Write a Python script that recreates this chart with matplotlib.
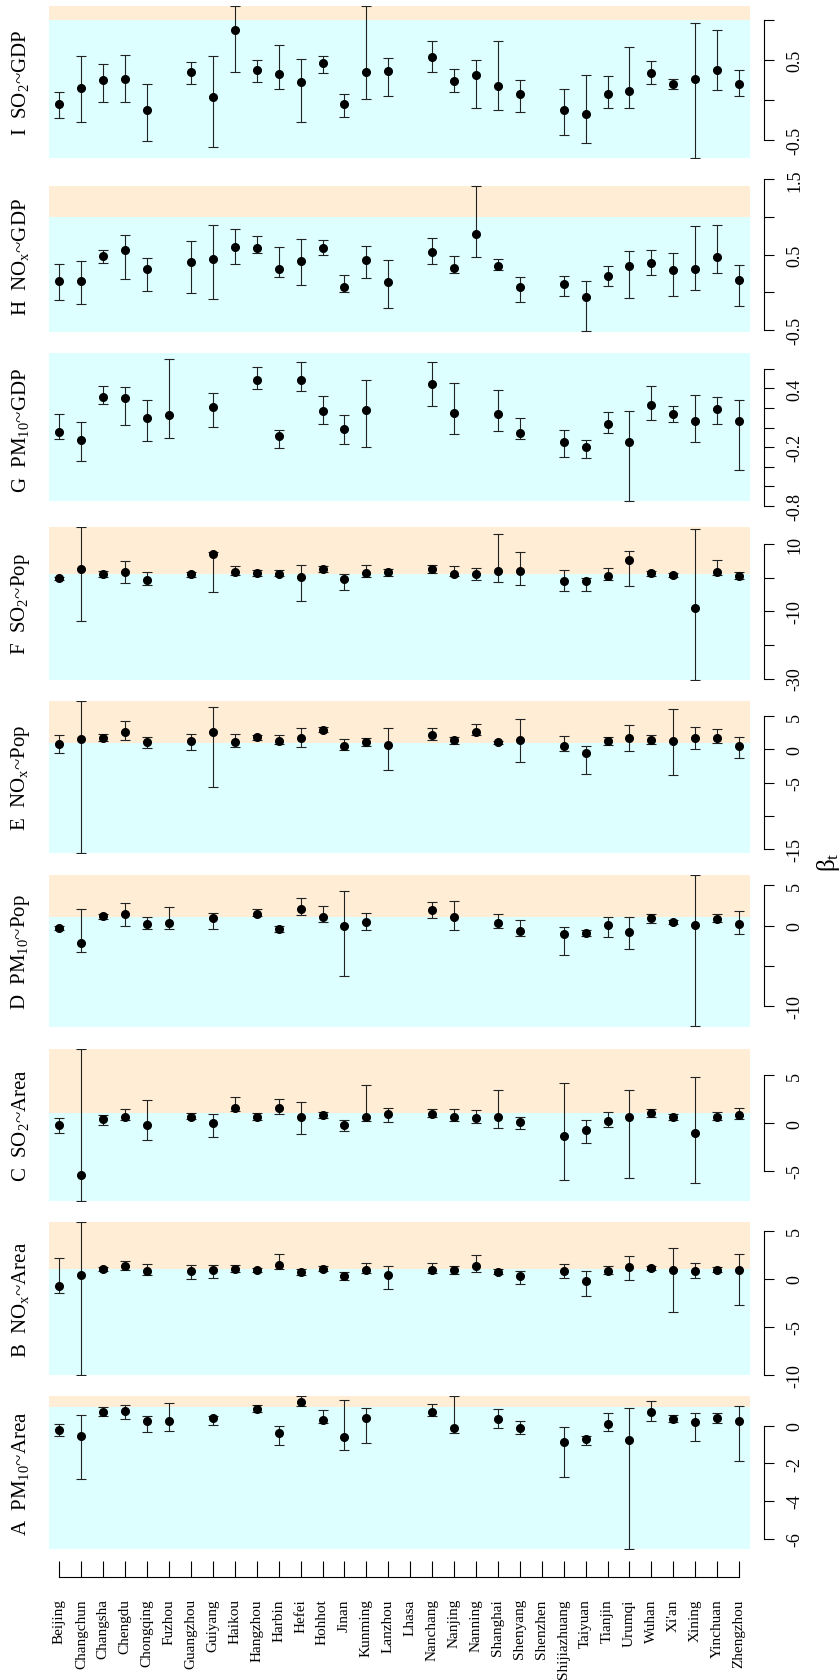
import matplotlib
matplotlib.use("Agg")
import matplotlib.pyplot as plt
import numpy as np

plt.rcParams["font.family"] = ["Liberation Serif", "DejaVu Serif"]
plt.rcParams["mathtext.fontset"] = "custom"
plt.rcParams["mathtext.rm"] = "Liberation Serif"
plt.rcParams["mathtext.it"] = "Liberation Serif:italic"
plt.rcParams["mathtext.default"] = "regular"

nan = np.nan

cities = ["Beijing", "Changchun", "Changsha", "Chengdu", "Chongqing", "Fuzhou",
          "Guangzhou", "Guiyang", "Haikou", "Hangzhou", "Harbin", "Hefei",
          "Hohhot", "Jinan", "Kunming", "Lanzhou", "Lhasa", "Nanchang",
          "Nanjing", "Nanning", "Shanghai", "Shenyang", "Shenzhen",
          "Shijiazhuang", "Taiyuan", "Tianjin", "Urumqi", "Wuhan", "Xi'an",
          "Xining", "Yinchuan", "Zhengzhou"]

# A  PM10 ~ Area
a_val = [-0.21, -0.52, 0.71, 0.78, 0.28, 0.23, nan, 0.39, nan, 0.91, -0.37, 1.25, 0.32, -0.57, 0.39, nan,
         nan, 0.73, -0.09, nan, 0.34, -0.11, nan, -0.84, -0.71, 0.12, -0.73, 0.75, 0.37, 0.18, 0.41, 0.28]
a_lo = [-0.55, -2.83, 0.53, 0.36, -0.34, -0.28, nan, 0.05, nan, 0.73, -1.03, 1.07, 0.14, -1.30, -0.91, nan,
        nan, 0.50, -0.36, nan, -0.09, -0.41, nan, -2.74, -1.01, -0.30, -6.53, 0.25, 0.21, -0.82, 0.14, -1.85]
a_hi = [0.07, 0.60, 1.01, 1.12, 0.53, 1.23, nan, 0.52, nan, 1.12, 0.00, 1.58, 0.82, 1.37, 0.93, nan,
        nan, 1.17, 1.58, nan, 0.87, 0.27, nan, -0.05, -0.53, 0.69, 0.94, 1.32, 0.55, 0.69, 0.69, 1.07]

# B  NOx ~ Area
b_val = [-0.73, 0.35, 1.04, 1.35, 0.83, nan, 0.83, 0.94, 1.04, 0.90, 1.42, 0.66, 1.04, 0.24, 0.90, 0.35,
         nan, 0.90, 0.87, 1.35, 0.73, 0.24, nan, 0.76, -0.24, 0.76, 1.25, 1.15, 0.87, 0.80, 0.94, 0.94]
b_lo = [-1.49, -10.0, 0.80, 0.87, 0.38, nan, -0.03, 0.10, 0.69, 0.66, 0.97, 0.35, 0.76, -0.14, 0.56, -1.08,
        nan, 0.56, 0.49, 0.66, 0.45, -0.52, nan, 0.10, -1.77, 0.45, -0.14, 0.90, -3.47, 0.10, 0.66, -2.78]
b_hi = [2.15, 5.87, 1.25, 1.88, 1.56, nan, 1.39, 1.39, 1.46, 1.15, 2.60, 1.00, 1.32, 0.73, 1.60, 1.28,
        nan, 1.60, 1.35, 2.50, 1.04, 0.76, nan, 1.49, 0.83, 1.28, 2.40, 1.32, 3.16, 1.60, 1.18, 2.57]

# C  SO2 ~ Area
c_val = [-0.24, -5.45, 0.45, 0.66, -0.24, nan, 0.63, 0.03, 1.60, 0.59, 1.53, 0.63, 0.87, -0.24, 0.63, 0.94,
         nan, 0.94, 0.63, 0.56, 0.63, 0.14, nan, -1.32, -0.73, 0.24, 0.66, 1.00, 0.59, -1.04, 0.63, 0.83]
c_lo = [-1.00, -8.13, -0.21, 0.35, -1.77, nan, 0.38, -1.42, 1.28, 0.35, 0.94, -1.18, 0.56, -0.83, 0.21, 0.10,
        nan, 0.63, 0.24, 0.00, -0.56, -0.59, nan, -5.94, -2.05, -0.38, -5.73, 0.66, 0.31, -6.22, 0.31, 0.45]
c_hi = [0.52, 7.78, 0.80, 1.42, 2.40, nan, 1.00, 0.94, 2.67, 1.00, 2.50, 2.15, 1.20, 0.31, 3.96, 1.60,
        nan, 1.49, 1.49, 1.32, 3.40, 0.63, nan, 4.17, 0.31, 1.11, 3.50, 1.42, 0.97, 4.76, 1.20, 1.60]

# D  PM10 ~ Pop
d_val = [-0.29, -2.16, 1.16, 1.41, 0.20, 0.33, nan, 0.91, nan, 1.49, -0.46, 2.00, 1.04, -0.04, 0.41, nan,
         nan, 1.87, 1.04, nan, 0.33, -0.62, nan, -1.08, -0.87, 0.08, -0.75, 0.91, 0.46, 0.04, 0.83, 0.20]
d_lo = [-0.58, -3.28, 0.83, 0.00, -0.41, -0.46, nan, -0.46, nan, 1.12, -0.79, 1.29, 0.46, -6.22, -0.58, nan,
        nan, 0.95, -0.58, nan, -0.29, -1.29, nan, -3.65, -1.24, -1.37, -2.95, 0.37, 0.17, -12.5, 0.41, -1.04]
d_hi = [-0.04, 2.10, 1.45, 2.82, 1.00, 2.24, nan, 1.58, nan, 2.00, -0.08, 3.44, 2.36, 4.27, 1.58, nan,
        nan, 2.95, 3.07, nan, 1.45, 0.71, nan, -0.12, -0.54, 1.08, 1.08, 1.45, 0.66, 6.30, 1.49, 1.78]

# E  NOx ~ Pop
e_val = [0.80, 1.50, 1.76, 2.66, 1.05, nan, 1.20, 2.60, 1.05, 1.80, 1.26, 1.70, 2.96, 0.50, 1.05, 0.65,
         nan, 2.20, 1.36, 2.66, 1.05, 1.36, nan, 0.55, -0.50, 1.26, 1.66, 1.36, 1.30, 1.66, 1.66, 0.50]
e_lo = [-0.55, -15.6, 1.30, 1.40, 0.15, nan, -0.15, -5.60, 0.40, 1.36, 0.75, 0.40, 2.56, -0.15, 0.45, -3.07,
        nan, 1.40, 0.85, 2.16, 0.75, -1.90, nan, -0.20, -3.70, 0.70, -0.30, 0.80, -3.80, 0.10, 0.90, -1.26]
e_hi = [2.10, 7.29, 2.26, 4.27, 1.86, nan, 2.26, 6.40, 2.26, 2.20, 2.10, 3.20, 3.37, 1.50, 1.70, 3.17,
        nan, 3.17, 1.86, 3.82, 1.30, 4.60, nan, 1.96, 0.55, 1.80, 3.67, 2.10, 6.10, 3.30, 3.00, 1.86]

# F  SO2 ~ Pop
f_val = [-0.2, 2.67, 1.0, 1.6, -0.6, nan, 1.0, 7.0, 1.8, 1.3, 1.2, 0.1, 2.6, -0.3, 1.4, 1.6,
         nan, 2.5, 1.2, 1.2, 1.9, 2.1, nan, -0.9, -1.0, 0.6, 5.2, 1.3, 0.7, -8.9, 1.8, 0.5]
f_lo = [-0.7, -13.0, 0.1, -1.5, -2.1, nan, 0.2, -4.2, 0.9, 0.4, 0.4, -7.0, 1.6, -3.6, 0.1, 0.4,
        nan, 1.5, 0.4, -0.5, -1.1, -2.0, nan, -4.0, -3.9, -0.6, -2.5, 0.5, 0.1, -30.3, 0.7, -0.3]
f_hi = [0.3, 15.1, 1.9, 5.0, 1.7, nan, 1.6, 7.8, 3.5, 2.3, 2.3, 3.7, 3.4, 1.1, 3.7, 2.5,
        nan, 3.7, 3.5, 2.9, 13.1, 7.7, nan, 2.3, -0.1, 2.9, 7.9, 2.1, 1.5, 14.5, 5.3, 1.6]

# G  PM10 ~ GDP
g_val = [-0.041, -0.124, 0.317, 0.298, 0.098, 0.127, nan, 0.206, nan, 0.486, -0.089, 0.489, 0.165, -0.016,
         0.181, nan, nan, 0.441, 0.152, nan, 0.137, -0.054, nan, -0.149, -0.203, 0.035, -0.143, 0.235,
         0.143, 0.067, 0.19, 0.067]
g_lo = [-0.114, -0.346, 0.238, 0.022, -0.137, -0.105, nan, 0.006, nan, 0.394, -0.21, 0.378, 0.035, -0.165,
        -0.2, nan, nan, 0.216, -0.067, nan, -0.038, -0.121, nan, -0.298, -0.314, -0.057, -0.749, 0.076,
        0.06, -0.149, 0.035, -0.429]
g_hi = [0.14, 0.054, 0.425, 0.416, 0.283, 0.702, nan, 0.356, nan, 0.616, -0.025, 0.667, 0.321, 0.124,
        0.486, nan, nan, 0.673, 0.454, nan, 0.384, 0.102, nan, -0.022, -0.124, 0.159, 0.168, 0.425,
        0.222, 0.33, 0.314, 0.283]

# H  NOx ~ GDP
h_val = [0.148, 0.148, 0.49, 0.559, 0.318, nan, 0.411, 0.449, 0.602, 0.589, 0.305, 0.415, 0.597, 0.076,
         0.428, 0.136, nan, 0.534, 0.33, 0.775, 0.356, 0.076, nan, 0.114, -0.055, 0.22, 0.356, 0.394,
         0.297, 0.318, 0.475, 0.161]
h_lo = [-0.106, -0.148, 0.386, 0.182, 0.013, nan, -0.013, -0.085, 0.373, 0.53, 0.203, 0.097, 0.496, 0.0,
        0.195, -0.203, nan, 0.373, 0.254, 0.47, 0.30, -0.123, nan, -0.047, -0.517, 0.089, -0.08, 0.233,
        -0.042, 0.03, 0.258, -0.174]
h_hi = [0.373, 0.424, 0.568, 0.763, 0.453, nan, 0.686, 0.894, 0.843, 0.746, 0.602, 0.712, 0.695, 0.237,
        0.623, 0.432, nan, 0.72, 0.479, 1.41, 0.441, 0.203, nan, 0.212, 0.153, 0.347, 0.555, 0.564,
        0.521, 0.881, 0.894, 0.36]

# I  SO2 ~ GDP
i_val = [-0.054, 0.158, 0.254, 0.267, -0.117, nan, 0.358, 0.038, 0.871, 0.383, 0.325, 0.233, 0.458, -0.054,
         0.35, 0.363, nan, 0.538, 0.242, 0.313, 0.183, 0.075, nan, -0.125, -0.175, 0.075, 0.113, 0.338,
         0.204, 0.263, 0.375, 0.196]
i_lo = [-0.225, -0.271, -0.025, -0.025, -0.513, nan, 0.2, -0.579, 0.358, 0.225, 0.142, -0.275, 0.342, -0.213,
        0.013, 0.054, nan, 0.346, 0.108, -0.096, -0.117, -0.142, nan, -0.438, -0.533, -0.092, -0.104, 0.2,
        0.138, -0.725, 0.125, 0.058]
i_hi = [0.104, 0.554, 0.446, 0.567, 0.2, nan, 0.475, 0.554, 1.18, 0.504, 0.688, 0.517, 0.554, 0.075,
        1.18, 0.529, nan, 0.742, 0.388, 0.504, 0.742, 0.258, nan, 0.142, 0.317, 0.304, 0.663, 0.483,
        0.267, 0.958, 0.879, 0.371]

# panels from top to bottom: letter, label, data, y-limits, ticks, tick labels
panels = [
    ("I", "SO$_2$~GDP", i_val, i_lo, i_hi, (-0.725, 1.18), [-0.5, 0, 0.5, 1.0], ["-0.5", "", "0.5", ""]),
    ("H", "NO$_x$~GDP", h_val, h_lo, h_hi, (-0.525, 1.41), [-0.5, 0, 0.5, 1.0, 1.5],
     ["-0.5", "", "0.5", "", "1.5"]),
    ("G", "PM$_{10}$~GDP", g_val, g_lo, g_hi, (-0.756, 0.759), [-0.8, -0.6, -0.4, -0.2, 0, 0.2, 0.4, 0.6],
     ["-0.8", "", "", "-0.2", "", "", "0.4", ""]),
    ("F", "SO$_2$~Pop", f_val, f_lo, f_hi, (-30.3, 15.1), [-30, -20, -10, 0, 10], ["-30", "", "-10", "", "10"]),
    ("E", "NO$_x$~Pop", e_val, e_lo, e_hi, (-15.6, 7.29), [-15, -10, -5, 0, 5], ["-15", "", "-5", "0", "5"]),
    ("D", "PM$_{10}$~Pop", d_val, d_lo, d_hi, (-12.6, 6.3), [-10, -5, 0, 5], ["-10", "", "0", "5"]),
    ("C", "SO$_2$~Area", c_val, c_lo, c_hi, (-8.13, 7.78), [-5, 0, 5], ["-5", "0", "5"]),
    ("B", "NO$_x$~Area", b_val, b_lo, b_hi, (-10.0, 5.87), [-10, -5, 0, 5], ["-10", "-5", "0", "5"]),
    ("A", "PM$_{10}$~Area", a_val, a_lo, a_hi, (-6.53, 1.58), [-6, -4, -2, 0], ["-6", "-4", "-2", "0"]),
]

W, H = 840, 1681
fig = plt.figure(figsize=(W / 100, H / 100), dpi=100)
x = np.arange(len(cities))

for k, (letter, name, val, lo, hi, ylim, ticks, tlabels) in enumerate(panels):
    top = 6.7 + k * 173.8
    hgt = 152.5
    ax = fig.add_axes([48.5 / W, 1 - (top + hgt) / H, 701.5 / W, hgt / H])
    val = np.array(val)
    lo = np.array(lo)
    hi = np.array(hi)

    ax.set_xlim(-0.5, len(cities) - 0.5)
    ax.set_ylim(*ylim)
    # sub-linear / super-linear background
    ax.axhspan(ylim[0], 1, color="#DDFFFF", lw=0, zorder=0)
    ax.axhspan(1, ylim[1], color="#FFEED5", lw=0, zorder=0)

    ax.errorbar(x, val, yerr=[val - lo, hi - val], fmt="o", color="black", ms=5.5,
                ecolor="#222222", elinewidth=0.8, capsize=3.3, capthick=0.8, zorder=3)

    for s in ["left", "top", "bottom"]:
        ax.spines[s].set_visible(False)
    ax.spines["right"].set_position(("outward", 10))
    ax.spines["right"].set_bounds(ticks[0], ticks[-1])
    ax.spines["right"].set_linewidth(0.8)
    ax.yaxis.tick_right()
    ax.set_yticks(ticks)
    ax.set_yticklabels(tlabels)
    ax.tick_params(axis="y", direction="out", length=7, width=0.8, pad=9, labelsize=13, labelrotation=90)
    for t in ax.get_yticklabels():
        t.set_verticalalignment("center")

    if letter == "A":
        ax.spines["bottom"].set_visible(True)
        ax.spines["bottom"].set_position(("outward", 20.7))
        ax.spines["bottom"].set_bounds(0, len(cities) - 1)
        ax.spines["bottom"].set_linewidth(0.8)
        ax.set_xticks(x)
        ax.set_xticklabels(cities, rotation=90, va="top", ha="center")
        ax.tick_params(axis="x", direction="in", length=11.5, width=0.8, pad=15, labelsize=11)
    else:
        ax.set_xticks([])

    fig.text(21 / W, 1 - (top + hgt / 2) / H, letter + "  " + name, rotation=90,
             ha="center", va="center", fontsize=15)

fig.text(828 / W, 1 - 862 / H, "β$_t$", rotation=90, ha="center", va="center", fontsize=18)

fig.savefig("out.png", dpi=100)
